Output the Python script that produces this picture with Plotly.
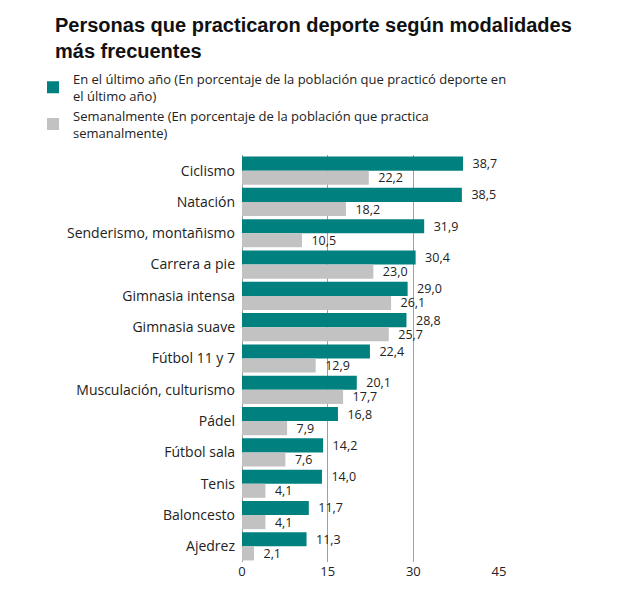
import plotly.graph_objects as go

categories = ["Ciclismo", "Natación", "Senderismo, montañismo", "Carrera a pie",
              "Gimnasia intensa", "Gimnasia suave", "Fútbol 11 y 7",
              "Musculación, culturismo", "Pádel", "Fútbol sala", "Tenis",
              "Baloncesto", "Ajedrez"]
ultimo_anio = [38.7, 38.5, 31.9, 30.4, 29.0, 28.8, 22.4, 20.1, 16.8, 14.2, 14.0, 11.7, 11.3]
semanal = [22.2, 18.2, 10.5, 23.0, 26.1, 25.7, 12.9, 17.7, 7.9, 7.6, 4.1, 4.1, 2.1]
x_ticks = [0, 15, 30, 45]

name1 = "En el último año (En porcentaje de la población que practicó deporte en<br>el último año)"
name2 = "Semanalmente (En porcentaje de la población que practica<br>semanalmente)"
title_text = "<b>Personas que practicaron deporte según modalidades<br>más frecuentes</b>"

FONT = "Open Sans"

fig = go.Figure()
fig.add_trace(go.Bar(y=categories, x=ultimo_anio, orientation="h", name=name1,
                     marker=dict(color="#00807F", line=dict(width=0)),
                     text=ultimo_anio, texttemplate="  %{x:.1f}", textposition="outside",
                     constraintext="none",
                     textfont=dict(size=12.5, color="#222", family=FONT), cliponaxis=False))
fig.add_trace(go.Bar(y=categories, x=semanal, orientation="h", name=name2,
                     marker=dict(color="#C2C2C2", line=dict(width=0)),
                     text=semanal, texttemplate="  %{x:.1f}", textposition="outside",
                     constraintext="none",
                     textfont=dict(size=12.5, color="#222", family=FONT), cliponaxis=False))

fig.update_layout(
    width=620, height=595,
    margin=dict(l=242, r=121, t=155, b=33),
    paper_bgcolor="white", plot_bgcolor="white",
    separators=",.",
    barmode="group", bargap=0.1, bargroupgap=0,
    font=dict(family=FONT, color="#222"),
    annotations=[dict(text=title_text, xref="paper", yref="paper",
                      x=(53 - 242) / 257, y=1 + (155 - 12) / 406,
                      xanchor="left", yanchor="top", align="left", showarrow=False,
                      font=dict(size=20, family="Liberation Sans", color="#111"))],
    legend=dict(x=(33 - 242) / 257, y=1 + (155 - 64) / 406, xanchor="left", yanchor="top",
                font=dict(size=13, family=FONT, color="#222"),
                itemwidth=30, traceorder="normal", tracegroupgap=0,
                bgcolor="rgba(0,0,0,0)"),
    showlegend=True,
)
fig.update_xaxes(range=[0, 45], tickvals=x_ticks, showgrid=True, gridcolor="#A0A0A0",
                 gridwidth=1, zeroline=True, zerolinecolor="#A0A0A0", zerolinewidth=1,
                 tickfont=dict(size=13, family=FONT, color="#222"), ticks="", showline=False)
fig.update_yaxes(autorange="reversed", tickfont=dict(size=14, family=FONT, color="#222"),
                 ticks="", showline=False, ticklabelstandoff=6)

fig.write_html("out.html")
